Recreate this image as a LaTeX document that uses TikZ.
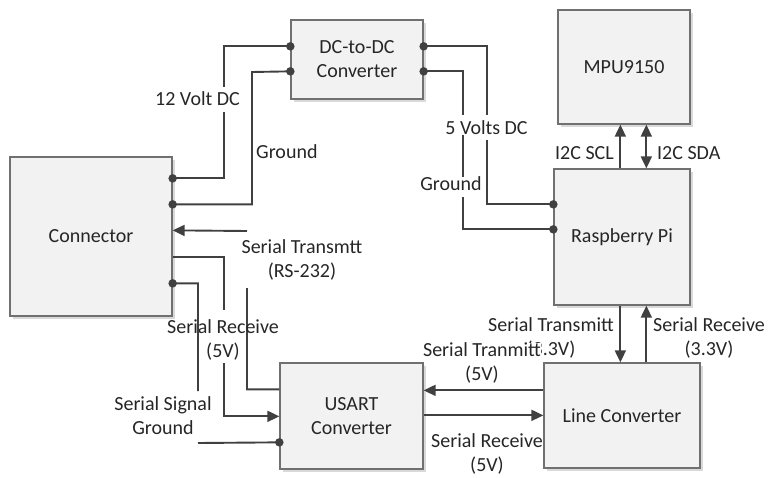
\documentclass[tikz,border=0pt]{standalone}
\usepackage{fontspec}
\setmainfont{Carlito}
\usetikzlibrary{arrows.meta,calc,shadows}
\definecolor{wirec}{HTML}{404040}
\definecolor{boxfill}{HTML}{F2F2F2}
\definecolor{boxline}{HTML}{707070}
\definecolor{txt}{HTML}{262626}
\begin{document}
\begin{tikzpicture}[x=1pt,y=-1pt,
  box/.style={draw=boxline, line width=1.3pt, fill=boxfill,
    drop shadow={shadow xshift=2.5pt, shadow yshift=-2.5pt, fill=black!15, opacity=1},
    inner sep=0pt, text=txt, font=\fontsize{20}{24}\selectfont, align=center},
  wire/.style={draw=wirec, line width=1.9pt},
  arr/.style={wire, -{Triangle[length=12pt,width=11pt]}},
  darr/.style={wire, {Triangle[length=12pt,width=11pt]}-{Triangle[length=12pt,width=11pt]}},
  lbl/.style={text=txt, font=\fontsize{20}{24}\selectfont, align=center, inner sep=0pt},
  dot/.style={circle, fill=wirec, inner sep=0pt, minimum size=8.5pt}]
\useasboundingbox (0,0) rectangle (769,477);
% labels that sit behind boxes
\node[lbl] (lST33) at (551,338) {Serial Transmitt\\(3.3V)};
\node[lbl, fill=white] (lST5) at (482,363) {Serial Tranmitt\\(5V)};
% boxes
\node[box, minimum width=162pt, minimum height=159pt] (conn) at (91,236.5) {Connector};
\node[box, minimum width=132pt, minimum height=79pt] (dc) at (357,59.5) {DC-to-DC\\Converter};
\node[box, minimum width=132pt, minimum height=114pt] (mpu) at (624,67) {MPU9150};
\node[box, minimum width=136pt, minimum height=136pt] (rpi) at (622,237) {Raspberry Pi};
\node[box, minimum width=143pt, minimum height=106pt] (usart) at (351.5,416) {USART\\Converter};
\node[box, minimum width=156pt, minimum height=105pt] (lc) at (622,415.5) {Line Converter};
% ports
\coordinate (c1) at ($(conn.north east)+(0,22)$);
\coordinate (c2) at ($(conn.north east)+(0,48)$);
\coordinate (c3) at ($(conn.north east)+(0,74)$);
\coordinate (c4) at ($(conn.north east)+(0,101)$);
\coordinate (c5) at ($(conn.north east)+(0,127)$);
\coordinate (d1) at ($(dc.north west)+(0,27)$);
\coordinate (d2) at ($(dc.north west)+(0,52)$);
\coordinate (d3) at ($(dc.north east)+(0,27)$);
\coordinate (d4) at ($(dc.north east)+(0,52)$);
\coordinate (r1) at ($(rpi.north west)+(0,36)$);
\coordinate (r2) at ($(rpi.north west)+(0,61)$);
\coordinate (rt1) at ($(rpi.north west)+(67,0)$);
\coordinate (rt2) at ($(rpi.north west)+(93,0)$);
\coordinate (rb1) at ($(rpi.south west)+(67,0)$);
\coordinate (rb2) at ($(rpi.south west)+(93,0)$);
\coordinate (m1) at ($(mpu.south west)+(63,0)$);
\coordinate (m2) at ($(mpu.south west)+(89,0)$);
\coordinate (u1) at ($(usart.north west)+(0,27)$);
\coordinate (u2) at ($(usart.north west)+(0,54)$);
\coordinate (u3) at ($(usart.north west)+(0,80)$);
\coordinate (u4) at ($(usart.north east)+(0,28)$);
\coordinate (u5) at ($(usart.north east)+(0,53)$);
\coordinate (l1) at ($(lc.north west)+(0,28)$);
\coordinate (l2) at ($(lc.north west)+(0,53)$);
\coordinate (lt1) at ($(lc.north west)+(77,0)$);
\coordinate (lt2) at ($(lc.north west)+(103,0)$);
% wires
\draw[wire] (c1) -| (224,112) (224,87) |- (d1);
\draw[wire] (c2) -| (252,72) -- (d2);
\draw[wire] (d3) -| (487,115) (487,140) |- (r1);
\draw[wire] (d4) -| (463,115) (463,135) -- (463,177) (463,197) |- (r2);
\draw[arr] (rt1) -- (m1);
\draw[darr] (rt2) -- (m2);
\draw[arr] (rb1) -- (lt1);
\draw[arr] (lt2) -- (rb2);
\draw[arr] (l1) -- (u4);
\draw[arr] (u5) -- (l2);
\draw[arr] (u1) -| (247,288) (247,231) -- (c3);
\draw[arr] (c4) -| (224,310) (224,363) |- (u2);
\draw[wire] (c5) -| (198,391) (198,443) -- (u3);
% dots
\foreach \p in {c1,c2,c5,d1,d2,d3,d4,r1,r2,u3} \node[dot] at (\p) {};
% labels
\node[lbl] (l12v) at (197.5,99) {12 Volt DC};
\node[lbl, anchor=west] (lgnd1) at (256,152) {Ground};
\node[lbl] (l5v) at (486.5,128) {5 Volts DC};
\node[lbl] (lgnd2) at (451,184) {Ground};
\node[lbl, anchor=east] (lscl) at (614,153) {I2C SCL};
\node[lbl, anchor=west] (lsda) at (657,153) {I2C SDA};
\node[lbl] (lrs) at (302,260) {Serial Transmtt\\(RS-232)};
\node[lbl] (lsr5a) at (223,340) {Serial Receive\\(5V)};
\node[lbl] (lsg) at (163,416) {Serial Signal\\Ground};
\node[lbl] (lsr33) at (709,338) {Serial Receive\\(3.3V)};
\node[lbl] (lsr5b) at (487,454) {Serial Receive\\(5V)};
\end{tikzpicture}
\end{document}
